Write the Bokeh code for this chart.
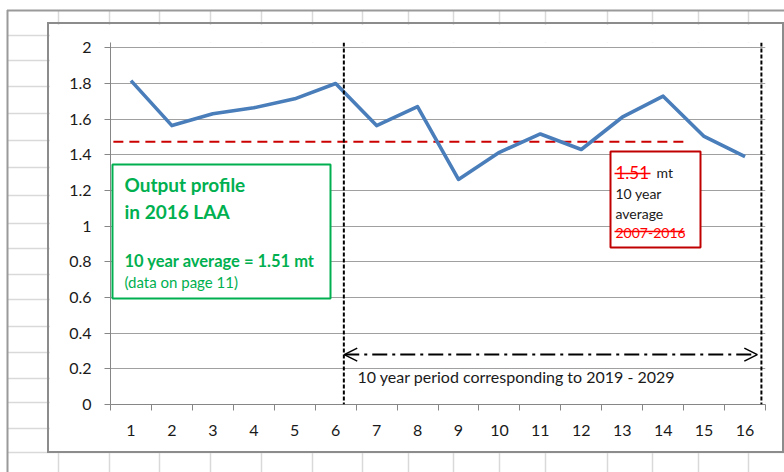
import urllib.parse
from bokeh.plotting import figure
from bokeh.models import (Range1d, FixedTicker, Span, Arrow, OpenHead, Label,
                          BoxAnnotation, GlobalInlineStyleSheet)
from bokeh.embed import file_html
from bokeh.resources import INLINE

# ---------------- data ----------------
periods = list(range(1, 17))
output_mt = [1.816, 1.564, 1.630, 1.664, 1.714, 1.800, 1.564, 1.671,
             1.262, 1.414, 1.517, 1.430, 1.611, 1.729, 1.503, 1.390]
x_tick_labels = [str(i) for i in periods]
y_ticks = [0, 0.2, 0.4, 0.6, 0.8, 1.0, 1.2, 1.4, 1.6, 1.8, 2.0]
y_tick_labels = ["0", "0.2", "0.4", "0.6", "0.8", "1", "1.2", "1.4", "1.6", "1.8", "2"]
avg_level = 1.473
avg_x_range = [0.57, 14.55]
period_bounds = [6.2, 16.4]
arrow_level = 0.28

# ---------------- layout helpers (page pixels -> data) ----------------
FR_L, FR_W, FR_B, FR_H = 110, 655, 404, 362
X0, X1, Y0, Y1 = 0.5, 16.5, 0.0, 2.03


def dx(px):
    return X0 + (px - FR_L) * (X1 - X0) / FR_W


def dy(py):
    return Y0 + (FR_B - py) * (Y1 - Y0) / FR_H


FONT = "Lato"

# ---------------- spreadsheet background (decoration) ----------------
col_lines = [58, 109, 159, 210, 261, 312, 362, 408, 453, 499, 545, 607, 652, 698, 748]
row_lines = [35, 60, 86, 113, 140, 167, 195, 223, 248, 274, 299, 326, 352, 378, 402, 428, 452]
svg = ['<svg xmlns="http://www.w3.org/2000/svg" width="784" height="472">']
for c in col_lines:
    svg.append(f'<line x1="{c}.5" y1="11" x2="{c}.5" y2="472" stroke="#d9d9d9" stroke-width="1.5"/>')
for r in row_lines:
    svg.append(f'<line x1="8" y1="{r}.5" x2="784" y2="{r}.5" stroke="#d9d9d9" stroke-width="1.5"/>')
svg.append('<line x1="7.5" y1="10" x2="7.5" y2="472" stroke="#9a9a9a" stroke-width="2"/>')
svg.append('<line x1="7" y1="10.5" x2="784" y2="10.5" stroke="#9a9a9a" stroke-width="2"/>')
svg.append('</svg>')
svg_uri = "data:image/svg+xml," + urllib.parse.quote("".join(svg))
css = ("html, body { background-color: #ffffff; background-image: url('%s'); "
       "background-repeat: no-repeat; background-position: 0 0; }" % svg_uri)

# ---------------- figure ----------------
p = figure(width=733, height=427, output_backend="svg", toolbar_location=None,
           x_range=Range1d(X0, X1), y_range=Range1d(Y0, Y1),
           min_border_left=61, min_border_right=17, min_border_top=18, min_border_bottom=47)
p.margin = (24, 0, 0, 49)
p.styles = {"outline": "2px solid #8c8c8c"}
p.stylesheets = [GlobalInlineStyleSheet(css=css)]
p.background_fill_color = "white"
p.border_fill_color = "white"
p.outline_line_color = None

# axes
p.xaxis.ticker = FixedTicker(ticks=periods, minor_ticks=[i + 0.5 for i in range(0, 17)])
p.xaxis.major_label_overrides = {t: l for t, l in zip(periods, x_tick_labels)}
p.xaxis.major_tick_line_color = None
p.xaxis.major_tick_out = 0
p.xaxis.major_tick_in = 0
p.xaxis.minor_tick_out = 6
p.xaxis.minor_tick_in = 0
p.xaxis.minor_tick_line_color = "#868686"
p.xaxis.major_label_standoff = 14

p.yaxis.ticker = FixedTicker(ticks=y_ticks, minor_ticks=[])
p.yaxis.major_label_overrides = {t: l for t, l in zip(y_ticks, y_tick_labels)}
p.yaxis.major_tick_out = 6
p.yaxis.major_tick_in = 0
p.yaxis.major_tick_line_color = "#868686"
p.yaxis.major_label_standoff = 13

for ax in (p.xaxis, p.yaxis):
    ax.axis_line_color = "#868686"
    ax.axis_line_width = 1
    ax.major_label_text_font = "Lato"
    ax.major_label_text_font_size = "16px"
    ax.major_label_text_color = "#1a1a1a"

p.xgrid.grid_line_color = None
p.ygrid.ticker = FixedTicker(ticks=y_ticks[1:])
p.ygrid.grid_line_color = "#a0a0a0"
p.ygrid.grid_line_width = 1

# average line
p.line(avg_x_range, [avg_level, avg_level], line_color="#cc0000", line_width=2,
       line_dash="10 6")

# main series
p.line(periods, output_mt, line_color="#4a7ebb", line_width=3.6, line_join="round")

# period boundaries
for b in period_bounds:
    p.add_layout(Span(location=b, dimension="height", line_color="black",
                      line_width=2, line_dash="4 2"))

# double arrow
p.add_layout(Arrow(x_start=period_bounds[0] + 0.01, y_start=arrow_level,
                   x_end=period_bounds[1] - 0.1, y_end=arrow_level,
                   line_color="black", line_width=2, line_dash="15 5 3 5",
                   start=OpenHead(size=13, line_width=1.5, line_color="black"),
                   end=OpenHead(size=13, line_width=1.5, line_color="black")))
p.add_layout(Label(x=dx(357), y=dy(376), text="10 year period corresponding to 2019 - 2029",
                   text_font=FONT, text_font_size="16px", text_color="#1a1a1a",
                   text_baseline="middle"))

# green box
GREEN = "#00b050"
p.add_layout(BoxAnnotation(left=dx(112), right=dx(330), top=dy(164), bottom=dy(298),
                           fill_color="white", fill_alpha=1, line_color=GREEN,
                           line_width=2, line_alpha=1))
for txt, py, size, style in [("Output profile", 184, "19px", "bold"),
                             ("in 2016 LAA", 211, "19px", "bold"),
                             ("10 year average = 1.51 mt", 260, "16.5px", "bold"),
                             ("(data on page 11)", 281, "15px", "normal")]:
    p.add_layout(Label(x=dx(124), y=dy(py), text=txt, text_font=FONT,
                       text_font_size=size, text_font_style=style,
                       text_color=GREEN, text_baseline="middle"))

# red box
RED = "#ff0000"
p.add_layout(BoxAnnotation(left=dx(610), right=dx(700), top=dy(151), bottom=dy(247),
                           fill_color="white", fill_alpha=1, line_color="#c00000",
                           line_width=2, line_alpha=1))
p.add_layout(Label(x=dx(615), y=dy(172), text="1.51", text_font=FONT, text_font_size="17px",
                   text_color=RED, text_baseline="middle"))
p.add_layout(Label(x=dx(656), y=dy(172), text="mt", text_font=FONT, text_font_size="14px",
                   text_color="#1a1a1a", text_baseline="middle"))
p.add_layout(Label(x=dx(615), y=dy(193), text="10 year", text_font=FONT, text_font_size="14px",
                   text_color="#1a1a1a", text_baseline="middle"))
p.add_layout(Label(x=dx(615), y=dy(213), text="average", text_font=FONT, text_font_size="14px",
                   text_color="#1a1a1a", text_baseline="middle"))
p.add_layout(Label(x=dx(615), y=dy(232), text="2007-2016", text_font=FONT, text_font_size="14px",
                   text_color=RED, text_baseline="middle"))
# strike-through lines
for (x_a, x_b, py) in [(614, 650, 173), (614, 684, 231)]:
    p.add_layout(Arrow(x_start=dx(x_a), y_start=dy(py), x_end=dx(x_b), y_end=dy(py),
                       end=None, line_color=RED, line_width=1.5))

open("out.html", "w").write(file_html(p, INLINE))
